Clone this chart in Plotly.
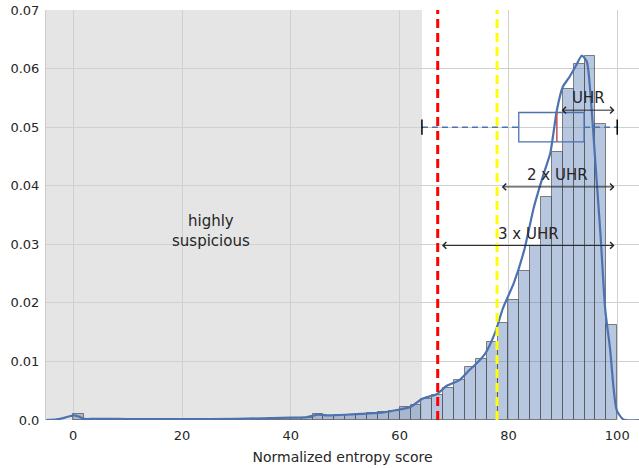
import plotly.graph_objects as go

# ---------------- data ----------------
bin_left = list(range(0, 100, 2))
density = [0.0010, 0.0002, 0.0002, 0.0002, 0.0002, 0.0001, 0.0001, 0.0001, 0.0001, 0.0001,
           0.0001, 0.0001, 0.0001, 0.0002, 0.0002, 0.0002, 0.0002, 0.0002, 0.0003, 0.0003,
           0.0003, 0.0003, 0.0010, 0.0007, 0.0008, 0.0009, 0.0010, 0.00114, 0.00137, 0.0015,
           0.0022, 0.0026, 0.0036, 0.0043, 0.0054, 0.0068, 0.0091, 0.0104, 0.0133, 0.0165,
           0.0205, 0.0254, 0.0297, 0.0380, 0.0457, 0.0565, 0.0608, 0.0622, 0.0505, 0.0162]
bin_width = 2

kde_x = [-5, -3, -1.5, 0, 1, 2, 4, 8, 12, 20, 30, 40, 43, 45, 47, 50, 54, 57, 60, 62,
         64.1, 66.8, 68.6, 71, 72.7, 74.5, 75.7, 77.5, 79, 81, 82.9, 84.7, 86.5, 87.7,
         88.9, 90, 91.1, 92.3, 93.5, 94.4, 95.3, 95.9, 96.9, 97.8, 98.7, 99.3, 99.9,
         101.1, 104]
kde_y = [0.0, 0.0001, 0.0004, 0.0008, 0.0006, 0.0002, 0.0002, 0.0002, 0.00015, 0.00015,
         0.0002, 0.0004, 0.0005, 0.0009, 0.0008, 0.0009, 0.0011, 0.0013, 0.0018, 0.0022,
         0.0036, 0.0044, 0.0058, 0.0068, 0.0084, 0.0100, 0.0113, 0.0148, 0.0191, 0.0234,
         0.0290, 0.0364, 0.0421, 0.0456, 0.0529, 0.0569, 0.0584, 0.0603, 0.0622, 0.0612,
         0.0529, 0.0450, 0.0320, 0.0188, 0.0120, 0.0057, 0.0017, 0.0001, 0.0]

box_q1, box_median, box_q3 = 81.9, 88.9, 93.9
whisker_low, whisker_high = 64.1, 100.0
box_y = 0.05
box_half_h = 0.0025
cap_half_h = 0.0013

suspicious_limit = 64.1
red_line_x = 67.0
yellow_line_x = 77.9

arrow_labels = ["UHR", "2 x UHR", "3 x UHR"]
arrow_start = [89.5, 78.5, 67.5]
arrow_end = [99.5, 99.5, 99.5]
arrow_y = [0.0529, 0.0398, 0.0298]
label_x = [94.7, 89.0, 83.6]
label_y = [0.0549, 0.0418, 0.0318]

x_ticks = [0, 20, 40, 60, 80, 100]
y_ticks = [0.0, 0.01, 0.02, 0.03, 0.04, 0.05, 0.06, 0.07]
y_tick_text = ["0.0", "0.01", "0.02", "0.03", "0.04", "0.05", "0.06", "0.07"]

# ---------------- figure ----------------
blue = "#4c72b0"
txt = "#262626"
font = "DejaVu Sans"

fig = go.Figure()

fig.add_trace(go.Bar(
    x=[b + bin_width / 2 for b in bin_left], y=density, width=bin_width,
    marker=dict(color="rgba(76,114,176,0.4)", line=dict(color="rgba(80,80,80,0.7)", width=1)),
    hoverinfo="skip", showlegend=False))

fig.add_trace(go.Scatter(
    x=kde_x, y=kde_y, mode="lines", line=dict(color=blue, width=2.2, shape="spline", smoothing=0.6),
    hoverinfo="skip", showlegend=False))

shapes = []
shapes.append(dict(type="rect", xref="x", yref="paper", x0=-5, x1=suspicious_limit, y0=0, y1=1,
                   fillcolor="#e5e5e5", line=dict(width=0), layer="below"))
shapes.append(dict(type="line", xref="x", yref="paper", x0=red_line_x, x1=red_line_x, y0=0, y1=1,
                   line=dict(color="#ff0000", width=3, dash="9px,5px")))
shapes.append(dict(type="line", xref="x", yref="paper", x0=yellow_line_x, x1=yellow_line_x, y0=0, y1=1,
                   line=dict(color="#ffff00", width=3, dash="9px,5px")))
shapes.append(dict(type="line", xref="x", yref="y", x0=whisker_low, x1=box_q1, y0=box_y, y1=box_y,
                   line=dict(color=blue, width=1.5, dash="6px,4px")))
shapes.append(dict(type="line", xref="x", yref="y", x0=box_q3, x1=whisker_high, y0=box_y, y1=box_y,
                   line=dict(color=blue, width=1.5, dash="6px,4px")))
shapes.append(dict(type="rect", xref="x", yref="y", x0=box_q1, x1=box_q3,
                   y0=box_y - box_half_h, y1=box_y + box_half_h,
                   line=dict(color=blue, width=1.3), fillcolor="rgba(0,0,0,0)"))
shapes.append(dict(type="line", xref="x", yref="y", x0=box_median, x1=box_median,
                   y0=box_y - box_half_h, y1=box_y + box_half_h,
                   line=dict(color="#c44e52", width=1.5)))
for wx in (whisker_low, whisker_high):
    shapes.append(dict(type="line", xref="x", yref="y", x0=wx, x1=wx,
                       y0=box_y - cap_half_h, y1=box_y + cap_half_h,
                       line=dict(color="black", width=1.5)))

annotations = []
for lab, xs, xe, ya, lx, ly in zip(arrow_labels, arrow_start, arrow_end, arrow_y, label_x, label_y):
    annotations.append(dict(x=xe, y=ya, ax=xs, ay=ya, xref="x", yref="y", axref="x", ayref="y",
                            text="", showarrow=True, arrowhead=4, startarrowhead=4,
                            arrowside="end+start", arrowsize=1.3, startarrowsize=1.3,
                            arrowwidth=1, arrowcolor=txt))
    annotations.append(dict(x=lx, y=ly, xref="x", yref="y", text=lab, showarrow=False,
                            font=dict(family=font, size=15, color=txt),
                            xanchor="center", yanchor="middle"))
annotations.append(dict(x=25.4, y=0.0323, xref="x", yref="y", text="highly<br>suspicious",
                        showarrow=False, font=dict(family=font, size=15, color=txt),
                        xanchor="center", yanchor="middle", align="center"))

fig.update_layout(
    width=639, height=468,
    margin=dict(l=46, r=0, t=10, b=48),
    paper_bgcolor="white", plot_bgcolor="white",
    font=dict(family=font, size=13, color=txt),
    shapes=shapes, annotations=annotations,
    bargap=0,
    xaxis=dict(range=[-5, 104], tickvals=x_ticks, showgrid=True, gridcolor="#d0d0d0", gridwidth=1,
               zeroline=False, showline=False, ticks="", automargin=False, ticklabelstandoff=6,
               title=dict(text="Normalized entropy score", standoff=10, font=dict(size=14)),
               tickfont=dict(size=13)),
    yaxis=dict(range=[0, 0.07], tickvals=y_ticks, ticktext=y_tick_text, showgrid=True,
               gridcolor="#d0d0d0", gridwidth=1, zeroline=False, showline=True, automargin=False,
               ticklabelstandoff=3,
               linecolor="#cccccc", linewidth=1, ticks="", tickfont=dict(size=13)),
)

fig.write_html("out.html", config={"displayModeBar": False},
               post_script="document.body.style.margin='0px';")
